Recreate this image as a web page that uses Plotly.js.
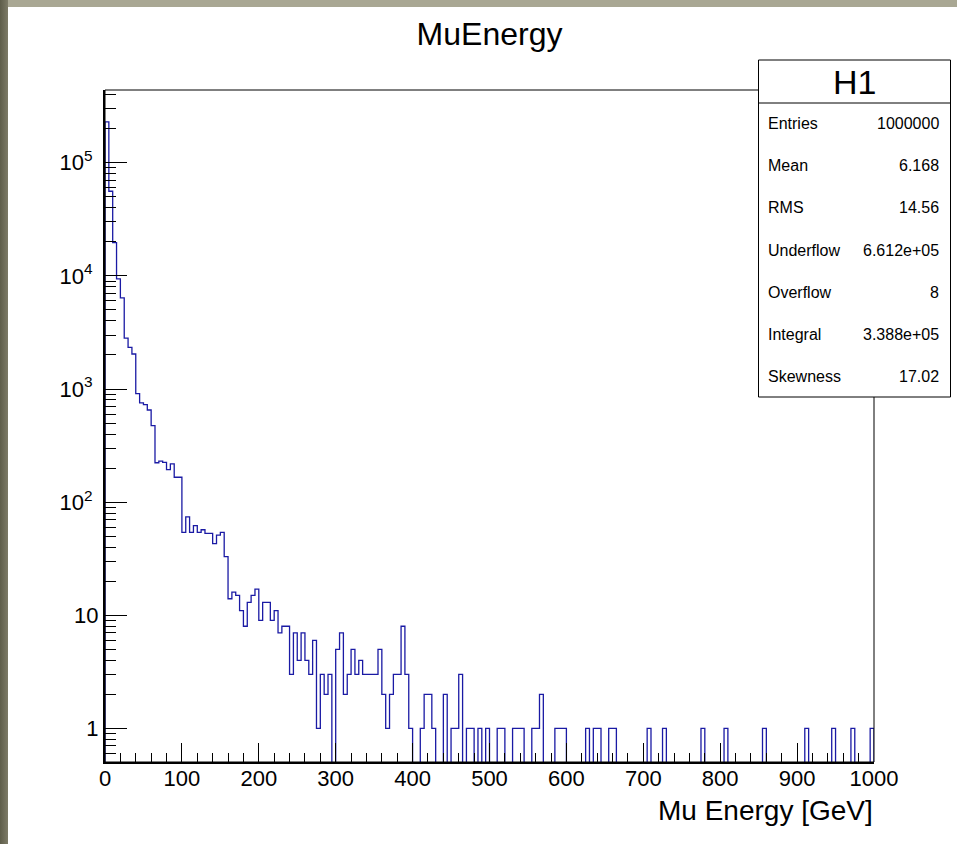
<!DOCTYPE html>
<html>
<head>
<meta charset="utf-8">
<script src="https://cdn.plot.ly/plotly-3.0.1.min.js"></script>
<style>
  html, body { margin: 0; padding: 0; }
  body { width: 957px; height: 844px; position: relative; overflow: hidden; background: #a9a793; }
  #leftband { position: absolute; left: 0; top: 0; width: 8px; height: 844px;
              background: linear-gradient(to right, #5e5d4a, #7d7b67); }
  #canvas { position: absolute; left: 8px; top: 7px; width: 949px; height: 837px; background: #ffffff; }
  #plot { position: absolute; left: 0; top: 0; width: 957px; height: 844px; }
</style>
</head>
<body>
<div id="leftband"></div>
<div id="canvas"></div>
<div id="plot"></div>
<script>
// Histogram binning: 200 bins of 5 GeV from 0 to 1000 GeV
const X_MIN = 0;
const BIN_WIDTH = 5;

// Bin contents (counts per 5 GeV bin)
const counts = [
  230000, 56000, 19700, 9400, 6400, 2820, 2330, 2040, 910, 755,
  728, 652, 475, 223, 230, 225, 194, 218, 166, 166,
  54, 74, 54, 62, 54, 57, 53, 53, 43, 51,
  54, 33, 14, 16, 15, 11, 8, 13, 15, 17,
  9, 13, 13, 9, 11, 7, 8, 8, 3, 7,
  4, 7, 4, 3, 6, 1, 3, 2, 3, 0,
  5, 7, 2, 3, 5, 3, 4, 3, 3, 3,
  3, 5, 2, 1, 2, 3, 3, 8, 3, 1,
  0, 0, 1, 2, 2, 1, 0, 0, 2, 0,
  1, 1, 3, 0, 1, 1, 0, 1, 0, 1,
  0, 0, 1, 1, 0, 0, 1, 1, 1, 0,
  0, 1, 1, 2, 0, 0, 0, 1, 1, 1,
  0, 0, 0, 0, 0, 1, 0, 1, 1, 0,
  0, 1, 1, 0, 0, 0, 0, 0, 0, 0,
  0, 1, 0, 0, 0, 1, 0, 0, 0, 0,
  0, 0, 0, 0, 0, 1, 0, 0, 0, 0,
  0, 1, 0, 0, 0, 0, 0, 0, 0, 0,
  0, 1, 0, 0, 0, 0, 0, 0, 0, 0,
  0, 0, 1, 0, 0, 0, 0, 0, 0, 1,
  0, 0, 0, 0, 1, 0, 0, 0, 0, 1
];

// Statistics box
const statsTitle = 'H1';
const statLabels = ['Entries', 'Mean', 'RMS', 'Underflow', 'Overflow', 'Integral', 'Skewness'];
const statValues = ['1000000', '6.168', '14.56', '6.612e+05', '8', '3.388e+05', '17.02'];

// Y axis decade labels
const yTickVals = [1, 10, 100, 1000, 10000, 100000];
const yTickText = ['1', '10', '10<sup>2</sup>\u00a0', '10<sup>3</sup>\u00a0', '10<sup>4</sup>\u00a0', '10<sup>5</sup>\u00a0'];

// ---------------------------------------------------------------------
const W = 957, H = 844;
const M = { l: 105, r: 83, t: 90, b: 82 };
const PW = W - M.l - M.r, PH = H - M.t - M.b;
const xp = px => (px - M.l) / PW;          // page px -> paper x
const yp = py => (H - M.b - py) / PH;      // page px -> paper y

const FONT = 'Liberation Sans, Arial, Helvetica, sans-serif';
const LINE_BLUE = '#1a1aa4';

// Step outline; empty bins drop below the log axis floor
const FLOOR = 1e-3;
const nBins = counts.length;
const xs = [X_MIN], ys = [FLOOR];
for (let i = 0; i < nBins; i++) {
  xs.push(X_MIN + i * BIN_WIDTH);
  ys.push(counts[i] > 0 ? counts[i] : FLOOR);
}
const xMax = X_MIN + nBins * BIN_WIDTH;
xs.push(xMax); ys.push(counts[nBins - 1] > 0 ? counts[nBins - 1] : FLOOR);
xs.push(xMax); ys.push(FLOOR);

// minor tick positions on the log axis (2..9 in each decade)
const yMinor = [];
for (let e = -1; e <= 5; e++) {
  for (let m = 2; m <= 9; m++) yMinor.push(m * Math.pow(10, e));
}

const trace = {
  type: 'scatter', mode: 'lines',
  x: xs, y: ys,
  line: { shape: 'hv', color: LINE_BLUE, width: 1.3 },
  hoverinfo: 'skip'
};

// stats box geometry (page pixels)
const box = { l: 758.5, r: 950.5, t: 60, b: 397, div: 103 };
const rowTop = 123.5, rowStep = 42.2;

const shapes = [
  { type: 'rect', xref: 'paper', yref: 'paper', x0: 0, x1: 1, y0: 0, y1: 1,
    line: { color: '#000', width: 1 }, layer: 'above' },
  { type: 'rect', xref: 'paper', yref: 'paper', x0: xp(box.l), x1: xp(box.r), y0: yp(box.b), y1: yp(box.t),
    line: { color: '#000', width: 1 }, fillcolor: '#ffffff', layer: 'above' },
  { type: 'line', xref: 'paper', yref: 'paper', x0: xp(box.l), x1: xp(box.r), y0: yp(box.div), y1: yp(box.div),
    line: { color: '#000', width: 1 }, layer: 'above' }
];

const annotations = [
  { text: statsTitle, xref: 'paper', yref: 'paper', x: xp((box.l + box.r) / 2), y: yp(82),
    xanchor: 'center', yanchor: 'middle', showarrow: false,
    font: { family: FONT, size: 34, color: '#000' } },
  { text: 'Mu Energy [GeV]', xref: 'paper', yref: 'paper', x: xp(875), y: yp(810),
    xanchor: 'right', yanchor: 'middle', showarrow: false,
    font: { family: FONT, size: 28, color: '#000' } }
];
statLabels.forEach((lab, k) => {
  const yc = rowTop + k * rowStep;
  annotations.push({ text: lab, xref: 'paper', yref: 'paper', x: xp(766), y: yp(yc),
    xanchor: 'left', yanchor: 'middle', showarrow: false,
    font: { family: FONT, size: 16, color: '#000' } });
  annotations.push({ text: statValues[k], xref: 'paper', yref: 'paper', x: xp(941), y: yp(yc),
    xanchor: 'right', yanchor: 'middle', showarrow: false,
    font: { family: FONT, size: 16, color: '#000' } });
});

const layout = {
  width: W, height: H,
  margin: M,
  paper_bgcolor: 'rgba(0,0,0,0)',
  plot_bgcolor: '#ffffff',
  showlegend: false,
  title: {
    text: 'MuEnergy',
    font: { family: FONT, size: 32, color: '#000' },
    x: 0.5, xref: 'paper', xanchor: 'center',
    y: 1 - 34 / H, yref: 'container', yanchor: 'middle'
  },
  xaxis: {
    type: 'linear', range: [0, 1000],
    showgrid: false, zeroline: false,
    showline: true, linecolor: '#000', linewidth: 2,
    ticks: 'inside', ticklen: 19, tickwidth: 1, tickcolor: '#000',
    tickmode: 'linear', tick0: 0, dtick: 100,
    minor: { ticks: 'inside', ticklen: 9, tickwidth: 1, tickcolor: '#000', tickmode: 'linear', tick0: 0, dtick: 20 },
    tickfont: { family: FONT, size: 22, color: '#000' },
    ticklabelstandoff: -4
  },
  yaxis: {
    type: 'log', range: [-0.297, 5.643],
    showgrid: false, zeroline: false,
    showline: true, linecolor: '#000', linewidth: 2,
    ticks: 'inside', ticklen: 22, tickwidth: 1, tickcolor: '#000',
    tickmode: 'array', tickvals: yTickVals, ticktext: yTickText,
    minor: { ticks: 'inside', ticklen: 11, tickwidth: 1, tickcolor: '#000', tickmode: 'array', tickvals: yMinor },
    tickfont: { family: FONT, size: 22, color: '#000' },
    ticklabelstandoff: 0
  },
  shapes: shapes,
  annotations: annotations
};

Plotly.newPlot('plot', [trace], layout, { staticPlot: true, displayModeBar: false });
</script>
</body>
</html>
